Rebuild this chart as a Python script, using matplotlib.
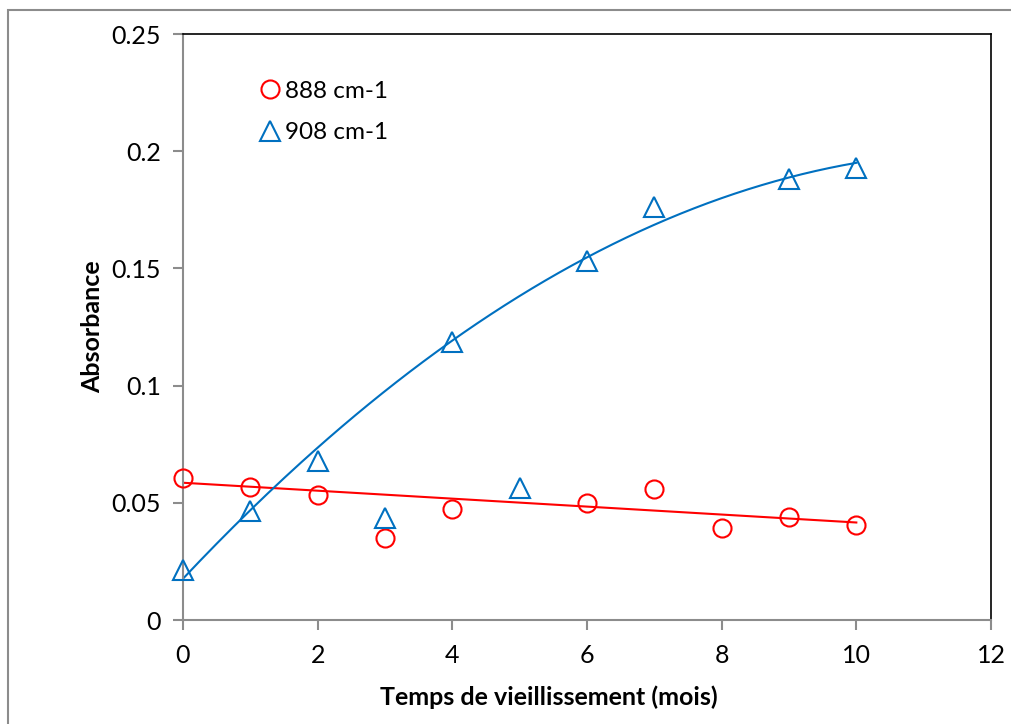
import matplotlib.pyplot as plt
import numpy as np
from matplotlib.patches import Rectangle

# temps de vieillissement (mois)
months_888 = [0, 1, 2, 3, 4, 6, 7, 8, 9, 10]
abs_888 = [0.0606, 0.0567, 0.0533, 0.0350, 0.0473, 0.0499, 0.0559, 0.0392, 0.0439, 0.0405]
# points left out of the linear trend line
excluded_888 = [3]

months_908 = [0, 1, 2, 3, 4, 5, 6, 7, 9, 10]
abs_908 = [0.0213, 0.0465, 0.0680, 0.0435, 0.1186, 0.0563, 0.1530, 0.1760, 0.1880, 0.1930]
# points left out of the polynomial trend line
excluded_908 = [3, 5]

RED = "#FF0000"
BLUE = "#0070C0"

plt.rcParams["font.family"] = ["Lato", "DejaVu Sans"]

fig = plt.figure(figsize=(10.11, 7.24), dpi=100)
ax = fig.add_axes([183 / 1011, 104 / 724, 808 / 1011, 586 / 724])

# outer chart border
fig.patches.append(Rectangle((8 / 1011, -0.1), 1.2, (724 - 10) / 724 + 0.1,
                             transform=fig.transFigure, fill=False,
                             edgecolor="#8c8c8c", linewidth=1.5))

# trend lines
x_fit = np.linspace(0, 10, 200)
mask_r = [m not in excluded_888 for m in months_888]
lin = np.polyfit(np.array(months_888)[mask_r], np.array(abs_888)[mask_r], 1)
ax.plot(x_fit, np.polyval(lin, x_fit), color=RED, linewidth=1.5, zorder=2)

mask_b = [m not in excluded_908 for m in months_908]
quad = np.polyfit(np.array(months_908)[mask_b], np.array(abs_908)[mask_b], 2)
ax.plot(x_fit, np.polyval(quad, x_fit), color=BLUE, linewidth=1.5, zorder=2)

ax.plot(months_888, abs_888, linestyle="none", marker="o", markersize=13,
        markerfacecolor="none", markeredgecolor=RED, markeredgewidth=1.5,
        label="888 cm-1", zorder=3, clip_on=False)
ax.plot(months_908, abs_908, linestyle="none", marker="^", markersize=14,
        markerfacecolor="none", markeredgecolor=BLUE, markeredgewidth=1.5,
        label="908 cm-1", zorder=3, clip_on=False)

ax.set_xlim(0, 12)
ax.set_ylim(0, 0.25)
ax.set_xticks(range(0, 13, 2))
ax.set_yticks([0, 0.05, 0.1, 0.15, 0.2, 0.25])
ax.set_yticklabels(["0", "0.05", "0.1", "0.15", "0.2", "0.25"])

for side in ["left", "bottom"]:
    ax.spines[side].set_color("#8c8c8c")
    ax.spines[side].set_linewidth(1.5)
for side in ["top", "right"]:
    ax.spines[side].set_color("black")
    ax.spines[side].set_linewidth(1.2)

ax.tick_params(direction="out", length=7, width=1.5, color="#8c8c8c",
               labelsize=18)
ax.tick_params(axis="y", pad=9)
ax.tick_params(axis="x", pad=10)

ax.set_xlabel("Temps de vieillissement (mois)", fontsize=18, fontweight="bold")
ax.xaxis.set_label_coords(0.453, -0.131)
ax.xaxis.label.set_verticalalignment("center")
ax.set_ylabel("Absorbance", fontsize=18, fontweight="bold", labelpad=5)

ax.legend(loc="upper left", bbox_to_anchor=(0.083, 0.937), frameon=False,
          fontsize=17.5, handlelength=0.8, handletextpad=0.22, labelspacing=0.85,
          borderaxespad=0)

fig.savefig("out.png", dpi=100)
